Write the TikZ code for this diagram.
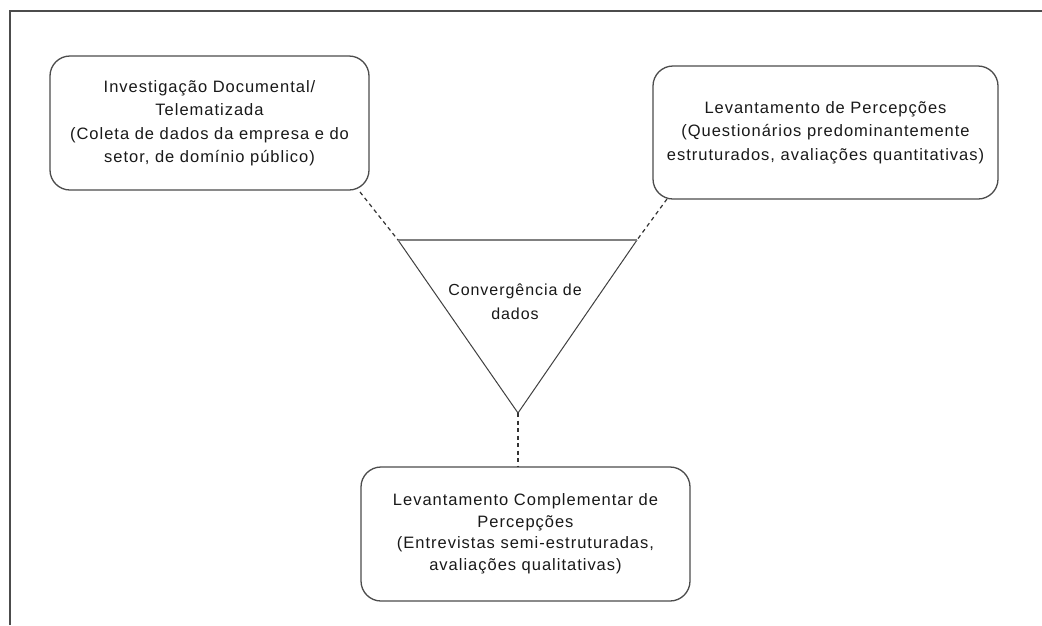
\documentclass[tikz,border=0pt]{standalone}
\usepackage{fontspec}
\setmainfont{Liberation Sans}[LetterSpace=6]
\usetikzlibrary{calc}
\tikzset{
  frame/.style={draw=black!70, line width=1.3pt},
  stagebox/.style={draw=black!70, line width=1.3pt, rounded corners=20pt,
    align=center, inner sep=0pt, text=black!90,
    font=\fontsize{16.5}{23.5}\selectfont},
  funnelside/.style={draw=black!75, line width=1pt, line join=miter},
  funneltop/.style={draw=black!50, line width=2.4pt},
  link/.style={draw=black!80, line width=1.2pt, dash pattern=on 4pt off 3.5pt},
  label/.style={align=center, inner sep=0pt, text=black!90,
    font=\fontsize{16}{23.5}\selectfont}
}
\begin{document}
\begin{tikzpicture}[x=1pt, y=-1pt]
  \useasboundingbox (0,0) rectangle (1042,625);
  \fill[white] (0,0) rectangle (1042,625);

  % outer frame (only the top and left edges fall inside the page)
  \coordinate (fa) at (10,625);
  \coordinate (fb) at (10,11);
  \coordinate (fc) at (1042,11);
  \draw[frame] (fa) -- (fb) -- (fc);

  % the three collection stages
  \node[stagebox, minimum width=319pt, minimum height=134pt] (doc) at (209.5,123)
    {Investigação Documental/\\Telematizada\\(Coleta de dados da empresa e do\\setor, de domínio público)};
  \node[stagebox, minimum width=345pt, minimum height=133pt] (perc) at (825.5,132.5)
    {Levantamento de Percepções\\(Questionários predominantemente\\estruturados, avaliações quantitativas)};
  \node[stagebox, minimum width=329pt, minimum height=134pt,
        font=\fontsize{16.5}{21.5}\selectfont] (comp) at (525.5,534)
    {Levantamento Complementar de\\Percepções\\(Entrevistas semi-estruturadas,\\avaliações qualitativas)};

  % convergence funnel
  \coordinate (tl) at (398,240);
  \coordinate (tr) at (637,240);
  \coordinate (tb) at (518,413);
  \draw[funnelside] (tl) -- (tb) -- (tr);
  \draw[funneltop] (tl) -- (tr);
  \node[label] (conv) at (515,301.5) {Convergência de\\dados};

  % dashed links from each stage to the funnel
  \coordinate (docend) at (360,192);
  \coordinate (percend) at (667,199);
  \draw[link] (docend) -- (tl);
  \draw[link] (percend) -- (tr);
  \draw[link] (tb) -- (tb |- comp.north);
\end{tikzpicture}
\end{document}
